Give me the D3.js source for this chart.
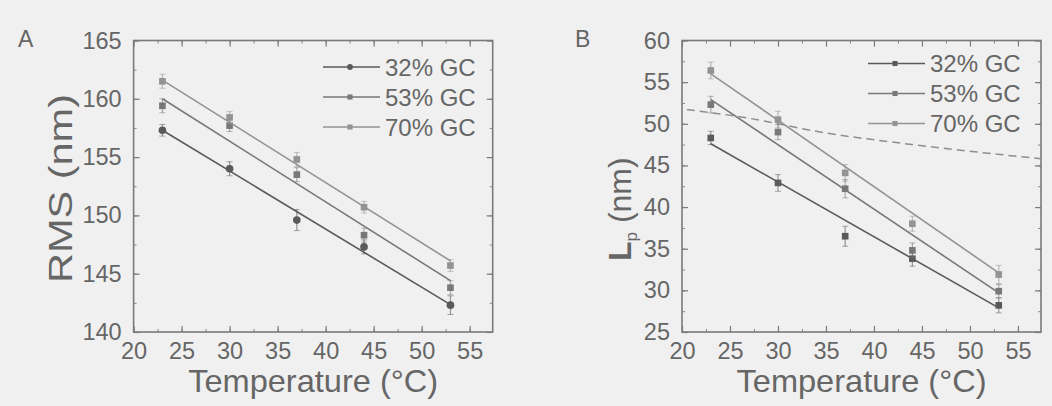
<!DOCTYPE html>
<html><head><meta charset="utf-8">
<script src="https://cdn.jsdelivr.net/npm/d3@7"></script>
<style>
html,body{margin:0;padding:0;background:#f0f0f0;}
svg{display:block;}
text{font-family:"Liberation Sans",Arial,sans-serif;fill:#666;}
</style></head><body>
<svg id="chart" width="1052" height="406"></svg>
<script>
// ---------- data ----------
const temps = [23, 30, 37, 44, 53];
const seriesNames = ["32% GC", "53% GC", "70% GC"];
const xTicks = [20, 25, 30, 35, 40, 45, 50, 55];
const rmsTicks = [140, 145, 150, 155, 160, 165];
const lpTicks = [25, 30, 35, 40, 45, 50, 55, 60];

const rms32 = [157.3, 154.0, 149.6, 147.3, 142.3];
const rms53 = [159.4, 157.7, 153.5, 148.3, 143.8];
const rms70 = [161.5, 158.4, 154.8, 150.7, 145.7];
const rmsErr32 = [0.5, 0.6, 0.9, 0.6, 0.8];
const rmsErr53 = [0.6, 0.5, 0.6, 0.6, 0.6];
const rmsErr70 = [0.6, 0.5, 0.6, 0.5, 0.5];
const rmsFitStart = [157.3, 160.0, 161.6];
const rmsFitEnd = [142.35, 144.4, 146.1];

const lp32 = [48.3, 42.9, 36.5, 33.8, 28.2];
const lp53 = [52.3, 49.0, 42.2, 34.8, 29.9];
const lp70 = [56.4, 50.5, 44.1, 38.0, 31.9];
const lpErr32 = [0.8, 1.0, 1.2, 0.9, 0.9];
const lpErr53 = [1.0, 0.9, 1.1, 0.9, 0.8];
const lpErr70 = [1.0, 1.0, 1.0, 0.9, 1.1];
const lpFitStart = [47.6, 52.9, 56.0];
const lpFitEnd = [27.9, 29.7, 32.1];

const dashT = [20.5, 26, 35, 45.5, 57.4];
const dashLp = [51.7, 50.85, 48.9, 47.3, 45.8];

const fitT = [23, 53];
const colors = ["#5a5a5a", "#787878", "#939393"];

// ---------- drawing ----------
const svg = d3.select("#chart");

function drawPanel(cfg) {
  const g = svg.append("g");
  const x = d3.scaleLinear().domain([20, 57.4]).range([cfg.left, cfg.right]);
  const y = d3.scaleLinear().domain(cfg.yDomain).range([cfg.bottom, cfg.top]);

  const xMinor = d3.range(20, 57.4, 2.5);
  const yMinor = d3.range(cfg.yDomain[0], cfg.yDomain[1] + 0.01, 2.5);
  const bottomAxis = d3.axisBottom(x).tickValues(xTicks).tickSize(-6).tickFormat(d3.format("d")).tickPadding(10);
  const topAxis = d3.axisTop(x).tickValues(xTicks).tickSize(-6).tickFormat("");
  const leftAxis = d3.axisLeft(y).tickValues(cfg.yTicks).tickSize(-6).tickFormat(d3.format("d")).tickPadding(12);
  const rightAxis = d3.axisRight(y).tickValues(cfg.yTicks).tickSize(-6).tickFormat("");
  const axes = [
    [bottomAxis, `translate(0,${cfg.bottom})`, d3.axisBottom(x).tickValues(xMinor).tickSize(-3).tickFormat("")],
    [topAxis, `translate(0,${cfg.top})`, d3.axisTop(x).tickValues(xMinor).tickSize(-3).tickFormat("")],
    [leftAxis, `translate(${cfg.left},0)`, d3.axisLeft(y).tickValues(yMinor).tickSize(-3).tickFormat("")],
    [rightAxis, `translate(${cfg.right},0)`, d3.axisRight(y).tickValues(yMinor).tickSize(-3).tickFormat("")]
  ];
  axes.forEach(([ax, tr, minor]) => {
    const a = g.append("g").attr("transform", tr).call(minor);
    a.select(".domain").remove();
    a.selectAll("line").attr("stroke", "#8a8a8a").attr("stroke-width", 1);
    const b = g.append("g").attr("transform", tr).call(ax);
    b.select(".domain").remove();
    b.selectAll("line").attr("stroke", "#7a7a7a").attr("stroke-width", 1.2);
    b.selectAll("text").style("font-size", "23.5px").attr("fill", "#6a6a6a")
      .style("font-family", "'Liberation Sans', Arial, sans-serif");
  });

  g.append("rect").attr("x", cfg.left).attr("y", cfg.top)
    .attr("width", cfg.right - cfg.left).attr("height", cfg.bottom - cfg.top)
    .attr("fill", "none").attr("stroke", "#7a7a7a").attr("stroke-width", 1.6);

  if (cfg.dash) {
    g.append("path")
      .datum(cfg.dash.t.map((t, i) => [t, cfg.dash.v[i]]))
      .attr("d", d3.line().x(d => x(d[0])).y(d => y(d[1])).curve(d3.curveMonotoneX))
      .attr("fill", "none").attr("stroke", "#8e8e8e").attr("stroke-width", 1.5)
      .attr("stroke-dasharray", "8,5");
  }

  cfg.series.forEach((vals, si) => {
    const col = colors[si];
    g.append("line")
      .attr("x1", x(fitT[0])).attr("y1", y(cfg.fitStart[si]))
      .attr("x2", x(fitT[1])).attr("y2", y(cfg.fitEnd[si]))
      .attr("stroke", col).attr("stroke-width", 1.6);
    const pts = temps.map((t, i) => ({t, v: vals[i], e: cfg.errs[si][i]}));
    g.selectAll(null).data(pts).enter().append("line")
      .attr("x1", d => x(d.t)).attr("x2", d => x(d.t))
      .attr("y1", d => y(d.v - d.e)).attr("y2", d => y(d.v + d.e))
      .attr("stroke", col).attr("stroke-width", 1.2).attr("opacity", 0.6);
    ["-", "+"].forEach(sgn => {
      g.selectAll(null).data(pts).enter().append("line")
        .attr("x1", d => x(d.t) - 3).attr("x2", d => x(d.t) + 3)
        .attr("y1", d => y(sgn === "+" ? d.v + d.e : d.v - d.e))
        .attr("y2", d => y(sgn === "+" ? d.v + d.e : d.v - d.e))
        .attr("stroke", col).attr("stroke-width", 1).attr("opacity", 0.5);
    });
    const sym = d3.symbol().type(cfg.symbols[si]).size(cfg.symbols[si] === d3.symbolCircle ? 46 : 44);
    g.selectAll(null).data(pts).enter().append("path")
      .attr("d", sym)
      .attr("transform", d => `translate(${x(d.t)},${y(d.v)})`)
      .attr("fill", col);
  });

  seriesNames.forEach((name, i) => {
    const yy = cfg.legY + i * 30;
    g.append("line").attr("x1", cfg.legX).attr("x2", cfg.legX + 57)
      .attr("y1", yy).attr("y2", yy).attr("stroke", colors[i]).attr("stroke-width", 1.6);
    g.append("path").attr("d", d3.symbol().type(cfg.symbols[i]).size(26))
      .attr("transform", `translate(${cfg.legX + 27},${yy})`).attr("fill", colors[i]);
    g.append("text").attr("x", cfg.legX + 62).attr("y", yy + 8.5)
      .style("font-size", "24px").attr("fill", "#6a6a6a").text(name);
  });

  g.append("text").attr("x", cfg.letterX).attr("y", 46.5)
    .style("font-size", "23px").attr("fill", "#666").text(cfg.letter);

  g.append("text").attr("x", (cfg.left + cfg.right) / 2).attr("y", 392)
    .attr("text-anchor", "middle").style("font-size", "32px").attr("fill", "#666")
    .attr("textLength", 250).attr("lengthAdjust", "spacingAndGlyphs")
    .text("Temperature (\u00B0C)");
  return {x, y, g};
}

const A = drawPanel({
  left: 133.6, right: 492.7, top: 40.5, bottom: 332,
  yDomain: [140, 165], yTicks: rmsTicks,
  series: [rms32, rms53, rms70], errs: [rmsErr32, rmsErr53, rmsErr70],
  fitStart: rmsFitStart, fitEnd: rmsFitEnd,
  symbols: [d3.symbolCircle, d3.symbolSquare, d3.symbolSquare],
  legX: 323, legY: 67, letter: "A", letterX: 18
});
A.g.append("text")
  .attr("transform", "translate(72,283) rotate(-90)")
  .attr("textLength", 189).attr("lengthAdjust", "spacingAndGlyphs")
  .style("font-size", "34px").attr("fill", "#666").text("RMS (nm)");

const B = drawPanel({
  left: 682, right: 1041, top: 40.5, bottom: 332,
  yDomain: [25, 60], yTicks: lpTicks,
  series: [lp32, lp53, lp70], errs: [lpErr32, lpErr53, lpErr70],
  fitStart: lpFitStart, fitEnd: lpFitEnd,
  symbols: [d3.symbolSquare, d3.symbolSquare, d3.symbolSquare],
  legX: 868, legY: 63.5, letter: "B", letterX: 575,
  dash: {t: dashT, v: dashLp}
});
const lt = B.g.append("text")
  .attr("transform", "translate(631,261) rotate(-90)")
  .style("font-size", "32px").attr("fill", "#666");
lt.append("tspan").text("L").style("font-weight", "bold");
lt.append("tspan").attr("dy", 6).style("font-size", "17px").text("p");
lt.append("tspan").attr("dy", -6).text(" (nm)");
</script>
</body></html>
